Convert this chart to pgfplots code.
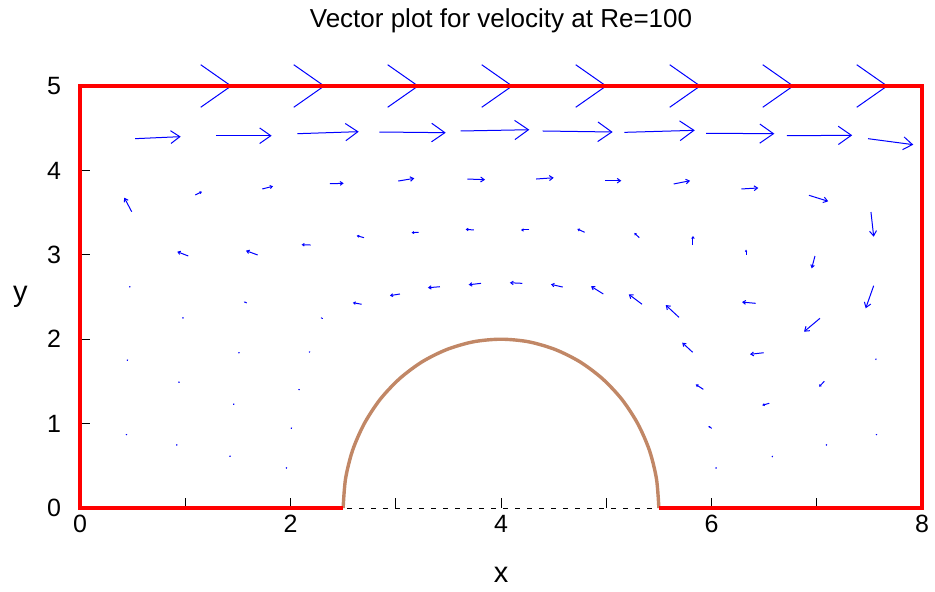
\documentclass[border=0pt]{standalone}
\usepackage{fontspec}
\setmainfont{Liberation Sans}
\usepackage{pgfplots}
\pgfplotsset{compat=1.18}
\usepackage{pgfplotstable}
\usetikzlibrary{arrows.meta}
\definecolor{wallbrown}{RGB}{193,135,102}

% velocity vectors: tail (x,y), components (u,v) in axis units
\pgfplotstableread{
x y u v
0.000 5.000 1.444 0
0.884 5.000 1.444 0
1.776 5.000 1.444 0
2.670 5.000 1.444 0
3.563 5.000 1.444 0
4.456 5.000 1.444 0
5.340 5.000 1.444 0
6.233 5.000 1.444 0
0.523 4.376 0.434 0.024
1.292 4.411 0.529 0
2.065 4.435 0.583 0.024
2.844 4.455 0.631 -0.008
3.617 4.467 0.652 0.015
4.396 4.467 0.665 -0.012
5.172 4.451 0.669 0.024
5.948 4.440 0.649 -0.005
6.717 4.411 0.620 0.005
7.487 4.376 0.430 -0.071
0.491 3.511 -0.070 0.166
1.095 3.709 0.064 0.039
1.732 3.780 0.102 0.032
2.375 3.842 0.130 0.005
3.024 3.874 0.152 0.032
3.680 3.898 0.168 -0.008
4.333 3.898 0.168 0.015
4.988 3.878 0.155 0
5.641 3.839 0.155 0.039
6.283 3.780 0.162 0.012
6.926 3.705 0.183 -0.071
7.515 3.507 0.026 -0.293
1.029 2.986 -0.105 0.051
1.688 2.998 -0.111 0.051
2.192 3.116 -0.086 0.004
2.698 3.203 -0.069 0.024
3.218 3.267 -0.067 -0.005
3.743 3.294 -0.079 0.008
4.269 3.294 -0.079 0
4.795 3.267 -0.070 0.039
5.314 3.203 -0.048 0.056
5.824 3.116 0 0.107
6.328 2.998 0 0.063
6.983 2.986 -0.031 -0.146
7.541 2.634 -0.076 -0.268
0.475 2.622 0.006 0.004
1.584 2.429 -0.026 0.015
2.302 2.251 -0.015 0
2.676 2.414 -0.083 0.019
3.040 2.536 -0.095 -0.020
3.420 2.622 -0.114 -0.012
3.810 2.662 -0.117 -0.017
4.202 2.662 -0.117 0.007
4.586 2.618 -0.111 0.032
4.972 2.536 -0.117 0.091
5.340 2.414 -0.126 0.118
5.691 2.259 -0.126 0.146
6.420 2.425 -0.130 0.015
7.031 2.248 -0.152 -0.159
5.821 1.845 -0.099 0.114
6.496 1.840 -0.130 -0.019
7.560 1.754 0.005 0.020
5.922 1.406 -0.072 0.059
7.072 1.501 -0.050 -0.064
6.549 1.241 -0.067 -0.024
6.002 0.944 -0.032 0.027
7.095 0.750 0.004 0.004
7.570 0.873 0.004 0.004
6.581 0.613 0.004 0.004
6.046 0.477 0.004 0.004
0.453 1.754 0.004 0.004
1.511 1.840 0.008 0.003
2.179 1.848 0.010 0.004
0.981 2.255 0.004 0.004
0.943 1.493 0.004 0.004
2.084 1.406 0.004 0.004
1.463 1.232 0.004 0.004
2.011 0.948 0.004 0.004
0.444 0.873 0.004 0.004
0.922 0.750 0.004 0.004
1.428 0.616 0.004 0.004
1.964 0.477 0.004 0.004
}\velo

\begin{document}
\begin{tikzpicture}
\begin{axis}[
  x=52.625pt, y=42.2pt,
  xmin=0, xmax=8, ymin=0, ymax=5,
  clip=false,
  axis line style={black, line width=0.5pt, dash pattern=on 2.5pt off 3.5pt},
  tick pos=left, tick align=inside, major tick length=5pt,
  tick style={black, line width=0.5pt},
  xtick={0,1,2,3,4,5,6,7,8}, xticklabels={0,,2,,4,,6,,8},
  ytick={0,1,2,3,4,5},
  /pgf/number format/assume math mode=true,
  tick label style={font=\fontsize{12.5}{14}\selectfont},
  yticklabel style={xshift=-6pt},
  title={Vector plot for velocity at Re=100},
  title style={font=\fontsize{13}{15}\selectfont, at={(0.5,1)}, anchor=base, yshift=23.5pt},
  xlabel={x}, ylabel={y},
  xlabel style={font=\fontsize{14.5}{16}\selectfont, at={(axis description cs:0.5,0)}, anchor=base, yshift=-37pt},
  ylabel style={font=\fontsize{14.5}{16}\selectfont, at={(axis description cs:-0.0707,0.5)}, anchor=center, rotate=-90},
]
\addplot[blue, line width=0.5pt,
  point meta={sqrt((\thisrow{u}*52.625)^2+(\thisrow{v}*42.2)^2)},
  point meta min=0, point meta max=1000,
  quiver={u=\thisrow{u}, v=\thisrow{v},
    every arrow/.append style={
      /utils/exec={\pgfmathsetlengthmacro\hl{max(0.2*\pgfplotspointmetatransformed,0.2)}%
                   \pgfmathsetlengthmacro\hw{1.4*max(0.2*\pgfplotspointmetatransformed,0.2)}},
      -{Straight Barb[length=\hl, width=\hw]}}}]
  table {\velo};

\addplot[wallbrown, line width=1.7pt, smooth, forget plot] coordinates {
  (2.500,0.000) (2.523,0.347) (2.590,0.684) (2.701,1.000) (2.851,1.286)
  (3.036,1.532) (3.250,1.732) (3.487,1.879) (3.740,1.970) (4.000,2.000)
  (4.260,1.970) (4.513,1.879) (4.750,1.732) (4.964,1.532) (5.149,1.286)
  (5.299,1.000) (5.410,0.684) (5.477,0.347) (5.500,0.000)};

\addplot[red, line width=1.7pt, forget plot] coordinates {
  (2.5,0) (0,0) (0,5) (8,5) (8,0) (5.5,0)};
\end{axis}
\pgfresetboundingbox
\path (-40pt,-41.5pt) rectangle (427.5pt,254pt);
\end{tikzpicture}
\end{document}
